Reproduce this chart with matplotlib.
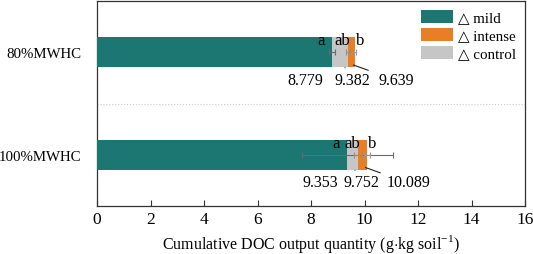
import matplotlib.pyplot as plt
import numpy as np

plt.rcParams["font.family"] = ["Liberation Serif", "DejaVu Sans"]
plt.rcParams["mathtext.fontset"] = "custom"
plt.rcParams["mathtext.rm"] = "Liberation Serif"

groups = ["80%MWHC", "100%MWHC"]
mild = [8.779, 9.353]
control = [9.382, 9.752]
intense = [9.639, 10.089]
mild_err = [0.10, 1.70]
control_err = [0.06, 0.15]
intense_err = [0.05, 0.12]
letters = ["a", "ab", "b"]

C_MILD = "#1c7773"
C_INT = "#e87e25"
C_CTRL = "#c6c6c6"

fig = plt.figure(figsize=(5.33, 2.55), dpi=100)
ax = fig.add_axes([0.182, 0.188, 0.803, 0.804])

y = np.array([1, 0])
h = 0.29
ax.barh(y, intense, height=h, color=C_INT, label="\u25b3 intense", zorder=2)
ax.barh(y, control, height=h, color=C_CTRL, label="\u25b3 control", zorder=3)
ax.barh(y, mild, height=h, color=C_MILD, label="\u25b3 mild", zorder=4)

ekw = dict(fmt="none", capsize=2.5, elinewidth=0.8, capthick=0.8, zorder=5)
ax.errorbar(mild, y, xerr=mild_err, ecolor="#6a6a6a", **ekw)
ax.errorbar(control, y, xerr=control_err, ecolor="#8f8f8f", **ekw)
ax.errorbar(intense, y, xerr=intense_err, ecolor="#9a9a9a", **ekw)

letter_dx = [-0.42, -0.2, 0.2]
label_dx = [-1.0, 0.15, 1.55]
for i, yy in enumerate(y):
    vals = [mild[i], control[i], intense[i]]
    for j, v in enumerate(vals):
        ax.text(v + letter_dx[j], yy + 0.12, letters[j], ha="center", va="center",
                fontsize=12, zorder=6)
        ax.text(v + label_dx[j], yy - 0.27, f"{v:.3f}", ha="center", va="center",
                fontsize=11.5, zorder=6)
    # leader lines from bars to value labels
    ax.annotate("", xy=(control[i] - 0.2, yy - 0.135), xytext=(control[i] - 0.02, yy - 0.165),
                arrowprops=dict(arrowstyle="-", color="#222222", lw=0.8))
    ax.annotate("", xy=(intense[i] - 0.15, yy - 0.115), xytext=(intense[i] + 0.6, yy - 0.185),
                arrowprops=dict(arrowstyle="-", color="#222222", lw=0.8))

ax.axhline(0.5, color="#cccccc", ls=":", lw=0.8, zorder=1)

ax.set_xlim(0, 16)
ax.set_ylim(-0.5, 1.5)
ax.set_xticks(np.arange(0, 17, 2))
ax.set_yticks(y)
ax.set_yticklabels(groups)
ax.tick_params(axis="x", direction="in", length=4, labelsize=12.5, color="#333333")
ax.tick_params(axis="y", length=0, labelsize=10.7, pad=11)
for s in ax.spines.values():
    s.set_color("#333333")
    s.set_linewidth(0.9)

ax.set_xlabel(r"Cumulative DOC output quantity (g$\cdot$kg soil$^{\mathregular{-1}}$)", fontsize=11.5)

handles, labels = ax.get_legend_handles_labels()
order = [2, 0, 1]
ax.legend([handles[k] for k in order], [labels[k] for k in order], loc="upper right",
          frameon=False, fontsize=10.8, handlelength=2.1, handleheight=0.95,
          labelspacing=0.22, handletextpad=0.35, borderaxespad=0.3, borderpad=0.3)

fig.savefig("out.png", dpi=100)
